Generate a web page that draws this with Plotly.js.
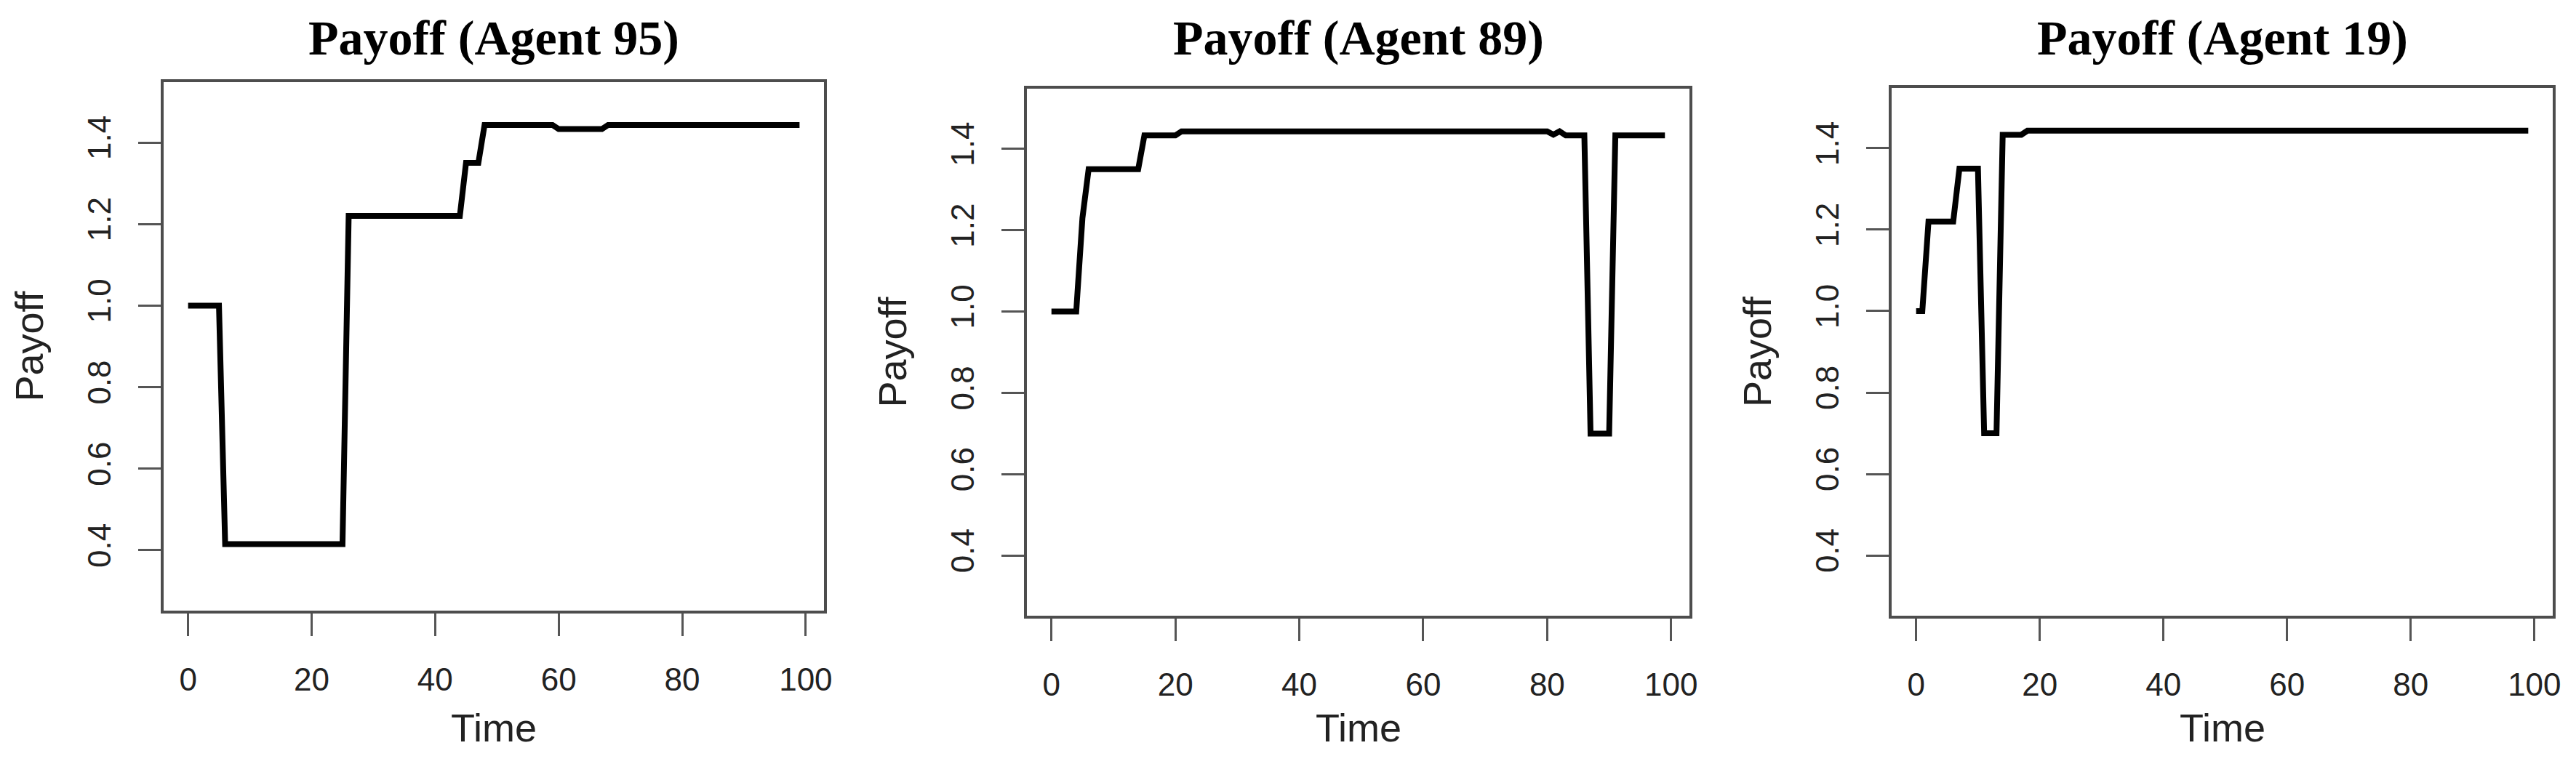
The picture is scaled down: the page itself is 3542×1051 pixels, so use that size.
<!DOCTYPE html>
<html>
<head>
<meta charset="utf-8">
<script src="https://cdn.plot.ly/plotly-3.0.1.min.js"></script>
<style>
  html, body { margin: 0; padding: 0; background: #fff; }
  #chart { width: 3542px; height: 1051px; }
</style>
</head>
<body>
<div id="chart"></div>
<script>
// payoff paths (vertices only, steps are linear between them)
const agent95_t = [0, 5, 6, 25, 26, 44, 45, 47, 48, 59, 60, 67, 68, 99];
const agent95_v = [1.0, 1.0, 0.415, 0.415, 1.22, 1.22, 1.35, 1.35, 1.443, 1.443, 1.433, 1.433, 1.443, 1.443];

const agent89_t = [0, 4, 5, 6, 14, 15, 20, 21, 80, 81, 82, 83, 86, 87, 90, 91, 99];
const agent89_v = [1.0, 1.0, 1.23, 1.35, 1.35, 1.433, 1.433, 1.443, 1.443, 1.435, 1.443, 1.433, 1.433, 0.70, 0.70, 1.433, 1.433];

const agent19_t = [0, 1, 2, 6, 7, 10, 11, 13, 14, 17, 18, 99];
const agent19_v = [1.0, 1.0, 1.22, 1.22, 1.35, 1.35, 0.70, 0.70, 1.433, 1.433, 1.443, 1.443];

const titles = ["Payoff (Agent 95)", "Payoff (Agent 89)", "Payoff (Agent 19)"];
const xTicks = [0, 20, 40, 60, 80, 100];
const yTicks = [0.4, 0.6, 0.8, 1.0, 1.2, 1.4];

const W = 3542, H = 1051;
const C = {
  ink: "#000000", frame: "#4d4d4d", tick: "#555555", label: "#222222",
  sans: "Liberation Sans, Arial, sans-serif",
  serif: "Liberation Serif, Times New Roman, serif",
};
// plot boxes in pixels: [left, top, right, bottom]
const BOX = [
  [225, 113, 1133, 840],
  [1412, 122, 2323, 847],
  [2601, 121, 3510, 847],
];
const series = [[agent95_t, agent95_v], [agent89_t, agent89_v], [agent19_t, agent19_v]];

const data = [], ann = [];
const layout = {
  width: W, height: H,
  paper_bgcolor: "#fff", plot_bgcolor: "#fff",
  margin: { l: 0, r: 0, t: 0, b: 0 },
  showlegend: false,
  font: { family: C.sans, color: C.label },
};

BOX.forEach((b, i) => {
  const n = i === 0 ? "" : String(i + 1);
  const xd = [b[0] / W, b[2] / W], yd = [1 - b[3] / H, 1 - b[1] / H];
  const common = {
    showline: true, mirror: true, linecolor: C.frame, linewidth: 4,
    ticks: "outside", ticklen: 31, tickwidth: 3, tickcolor: C.tick,
    showgrid: false, zeroline: false, fixedrange: true,
    tickfont: { family: C.sans, size: 44, color: C.label },
  };
  layout["xaxis" + n] = Object.assign({}, common, {
    domain: xd, anchor: "y" + n, range: [-3.96, 102.96],
    tickmode: "array", tickvals: xTicks, ticklabelstandoff: 22,
  });
  layout["yaxis" + n] = Object.assign({}, common, {
    domain: yd, anchor: "x" + n, range: [0.252, 1.548],
    tickmode: "array", tickvals: yTicks, tickformat: ".1f",
    tickangle: -90, ticklabelstandoff: 20,
  });
  data.push({
    x: series[i][0], y: series[i][1], xaxis: "x" + n, yaxis: "y" + n,
    mode: "lines", line: { color: C.ink, width: 8 }, hoverinfo: "skip",
  });
  const cx = (b[0] + b[2]) / 2 / W;
  ann.push({ text: "<b>" + titles[i] + "</b>", xref: "paper", yref: "paper",
    x: cx, y: 1 - 52 / H, xanchor: "center", yanchor: "middle", showarrow: false,
    font: { family: C.serif, size: 68, color: C.ink } });
  ann.push({ text: "Time", xref: "paper", yref: "paper",
    x: cx, y: 1 - 1001 / H, xanchor: "center", yanchor: "middle", showarrow: false,
    font: { family: C.sans, size: 54, color: C.label } });
  ann.push({ text: "Payoff", xref: "paper", yref: "paper", textangle: -90,
    x: (b[0] - 185) / W, y: 1 - ((b[1] + b[3]) / 2) / H,
    xanchor: "center", yanchor: "middle", showarrow: false,
    font: { family: C.sans, size: 54, color: C.label } });
});
layout.annotations = ann;

Plotly.newPlot("chart", data, layout, { displayModeBar: false, staticPlot: true });
</script>
</body>
</html>
